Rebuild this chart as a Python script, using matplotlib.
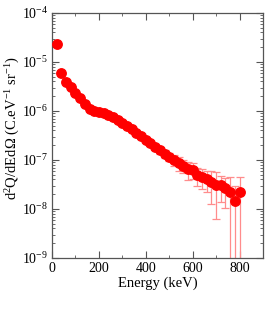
import numpy as np
import matplotlib
matplotlib.use("Agg")
from matplotlib import pyplot as plt
from matplotlib.ticker import FixedLocator, LogLocator, NullFormatter

RED = "#ff0000"
ERR = "#ff8c8c"

energy = [20, 40, 60, 80, 100, 120, 140, 160, 180, 200,
          220, 240, 260, 280, 300, 320, 340, 360, 380, 400,
          420, 440, 460, 480, 500, 520, 540, 560, 580, 600,
          620, 640, 660, 680, 700, 720, 740, 760, 780, 800]
log_q = [-4.63, -5.23, -5.40, -5.52, -5.63, -5.74, -5.86, -5.96, -5.99, -6.02,
         -6.04, -6.08, -6.13, -6.19, -6.25, -6.31, -6.37, -6.44, -6.52, -6.59,
         -6.66, -6.73, -6.80, -6.87, -6.93, -6.99, -7.06, -7.12, -7.19, -7.20,
         -7.30, -7.34, -7.39, -7.45, -7.50, -7.52, -7.58, -7.65, -7.83, -7.65]
rel_err = [0.01, 0.01, 0.01, 0.01, 0.01, 0.02, 0.02, 0.02, 0.02, 0.03,
           0.03, 0.03, 0.04, 0.04, 0.05, 0.05, 0.06, 0.07, 0.08, 0.10,
           0.12, 0.15, 0.18, 0.20, 0.20, 0.25, 0.30, 0.30, 0.40, 0.35,
           0.40, 0.45, 0.45, 0.65, 0.80, 0.55, 0.60, 1.05, 1.00, 1.05]

x_ticks = [0, 200, 400, 600, 800]
y_exps = [-9, -8, -7, -6, -5, -4]

q = 10.0 ** np.array(log_q)
err = q * np.array(rel_err)

plt.rcParams["font.family"] = ["Liberation Serif", "DejaVu Serif"]
plt.rcParams["mathtext.fontset"] = "custom"
plt.rcParams["mathtext.rm"] = "Liberation Serif"
plt.rcParams["mathtext.it"] = "Liberation Serif:italic"

fig = plt.figure(figsize=(2.75, 3.11), dpi=100)
ax = fig.add_axes([52 / 275, 1 - 258 / 311, 211 / 275, 245 / 311])

ax.errorbar(energy, q, yerr=err, fmt="none", ecolor=ERR, elinewidth=0.9,
            capsize=3, capthick=0.9, zorder=2)
ax.plot(energy, q, "o", color=RED, markersize=6.8, zorder=3)

ax.set_yscale("log")
ax.set_xlim(0, 900)
ax.set_ylim(1e-9, 1e-4)

ax.xaxis.set_major_locator(FixedLocator(x_ticks))
ax.xaxis.set_minor_locator(FixedLocator([100, 300, 500, 700, 900]))
ax.set_xticklabels([str(t) for t in x_ticks])
ax.yaxis.set_major_locator(FixedLocator([10.0 ** e for e in y_exps]))
ax.set_yticklabels([r"$10^{\mathregular{-%d}}$" % -e for e in y_exps])
ax.yaxis.set_minor_locator(LogLocator(base=10, subs=np.arange(2, 10)))
ax.yaxis.set_minor_formatter(NullFormatter())

ax.tick_params(which="both", direction="in", top=True, right=True,
               labelsize=10, color="#555555", pad=3)
ax.tick_params(which="major", length=5, width=0.8)
ax.tick_params(which="minor", length=2.5, width=0.6)
for s in ax.spines.values():
    s.set_color("#555555")
    s.set_linewidth(0.9)

ax.set_xlabel("Energy (keV)", fontsize=10.5, labelpad=1)
ax.set_ylabel(r"d$^{\mathregular{2}}$Q/dEd$\Omega$ (C.eV$^{\mathregular{-1}}$ sr$^{\mathregular{-1}}$)",
              fontsize=10.5)
ax.yaxis.set_label_coords(-0.142, 0.53)

fig.savefig("out.png", dpi=100)
